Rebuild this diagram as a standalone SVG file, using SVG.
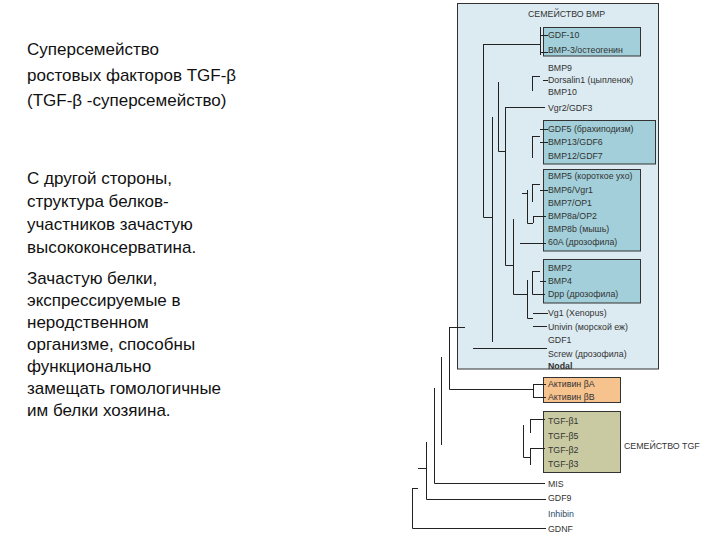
<svg xmlns="http://www.w3.org/2000/svg" width="720" height="540" viewBox="0 0 720 540">
<style>
.t{font-family:"Liberation Sans",Arial,sans-serif;font-size:17px;fill:#111}
.l{font-family:"Liberation Sans",Arial,sans-serif;font-size:8.8px;fill:#333}
.ln{fill:none;stroke:#222;stroke-width:1}
.bx{stroke:#333;stroke-width:1}
</style>
<rect width="720" height="540" fill="#fff"/>
<g id="text-left">
<text class="t" x="27" y="55">Суперсемейство</text>
<text class="t" x="27" y="81">ростовых факторов TGF-β</text>
<text class="t" x="27" y="106">(TGF-β -суперсемейство)</text>
<text class="t" x="27" y="184">С другой стороны,</text>
<text class="t" x="27" y="207">структура белков-</text>
<text class="t" x="27" y="230">участников зачастую</text>
<text class="t" x="27" y="253">высококонсерватина.</text>
<text class="t" x="27" y="284">Зачастую белки,</text>
<text class="t" x="27" y="306">экспрессируемые в</text>
<text class="t" x="27" y="328">неродственном</text>
<text class="t" x="27" y="350">организме, способны</text>
<text class="t" x="27" y="372">функционально</text>
<text class="t" x="27" y="394">замещать гомологичные</text>
<text class="t" x="27" y="416">им белки хозяина.</text>
</g>
<g id="bmp-family">
<rect class="bx" x="457.5" y="3.5" width="201" height="365.5" fill="#dceaf1"/>
<text class="l" x="528" y="17">СЕМЕЙСТВО BMP</text>
</g>
<g id="box-gdf10"><rect class="bx" x="543.5" y="27.5" width="97" height="28.5" fill="#a2cfd9"/></g>
<g id="box-gdf5"><rect class="bx" x="543.5" y="120.5" width="112" height="43.5" fill="#a2cfd9"/></g>
<g id="box-bmp5"><rect class="bx" x="543.5" y="169.5" width="97" height="81.5" fill="#a2cfd9"/></g>
<g id="box-bmp2"><rect class="bx" x="543.5" y="259.5" width="97" height="43.5" fill="#a2cfd9"/></g>
<g id="box-activin"><rect class="bx" x="543.5" y="377.5" width="77" height="25" fill="#f6c28e"/></g>
<g id="box-tgf"><rect class="bx" x="543.5" y="411.5" width="77" height="61" fill="#c9caa2"/></g>
<g id="labels">
<text class="l" x="548" y="38">GDF-10</text>
<text class="l" x="548" y="53">BMP-3/остеогенин</text>
<text class="l" x="548" y="71">BMP9</text>
<text class="l" x="548" y="83">Dorsalin1 (цыпленок)</text>
<text class="l" x="548" y="95">BMP10</text>
<text class="l" x="548" y="111">Vgr2/GDF3</text>
<text class="l" x="548" y="132">GDF5 (брахиподизм)</text>
<text class="l" x="548" y="145">BMP13/GDF6</text>
<text class="l" x="548" y="159">BMP12/GDF7</text>
<text class="l" x="548" y="179">BMP5 (короткое ухо)</text>
<text class="l" x="548" y="193">BMP6/Vgr1</text>
<text class="l" x="548" y="206">BMP7/OP1</text>
<text class="l" x="548" y="219">BMP8a/OP2</text>
<text class="l" x="548" y="232">BMP8b (мышь)</text>
<text class="l" x="548" y="245">60A (дрозофила)</text>
<text class="l" x="548" y="271">BMP2</text>
<text class="l" x="548" y="284">BMP4</text>
<text class="l" x="548" y="297">Dpp (дрозофила)</text>
<text class="l" x="548" y="316">Vg1 (Xenopus)</text>
<text class="l" x="548" y="330">Univin (морской еж)</text>
<text class="l" x="548" y="343">GDF1</text>
<text class="l" x="548" y="357">Screw (дрозофила)</text>
<text class="l" x="548" y="369" style="font-weight:bold">Nodal</text>
<text class="l" x="548" y="387">Активин βA</text>
<text class="l" x="548" y="400">Активин βB</text>
<text class="l" x="548" y="424">TGF-β1</text>
<text class="l" x="548" y="439">TGF-β5</text>
<text class="l" x="548" y="453">TGF-β2</text>
<text class="l" x="548" y="467">TGF-β3</text>
<text class="l" x="624" y="449">СЕМЕЙСТВО TGF</text>
<text class="l" x="548" y="487">MIS</text>
<text class="l" x="548" y="501">GDF9</text>
<text class="l" x="548" y="517" style="fill:#2a4a6a">Inhibin</text>
<text class="l" x="548" y="532">GDNF</text>
</g>
<g id="connectors" class="ln">
<path d="M540.5 27V55M540 35.5H548M540 52.5H548M483.5 44.5H540M483.5 44V217.5H492"/>
<path d="M532.5 76V91M532 76.5H540M543 80.5H548"/>
<path d="M498.5 82V151.5H505"/>
<path d="M505.5 107.5H545M505.5 107V265.5H513"/>
<path d="M492.5 117V342"/>
<path d="M532.5 136V158M532 136.5H540M540 129.5H548M540 142.5H548"/>
<path d="M532.5 184V202M532 184.5H540M540 190.5H548M527.5 190V223.5H533M533.5 216.5H546M533.5 216V223M522 193.5H527"/>
<path d="M520 243.5H546"/>
<path d="M513.5 219V294.5H527"/>
<path d="M532.5 271V294.5H545M532 271.5H540M540 281.5H546M527.5 280V318.5H533M533 313.5H548"/>
<path d="M533 326.5H547"/>
<path d="M473 348.5H547"/>
<path d="M449.5 327.5H465M449.5 327V389.5H533M533 384.5H546M533 397.5H546M533.5 384V398"/>
<path d="M441.5 357V445"/>
<path d="M434.5 388V483.5H545"/>
<path d="M530.5 419V433M530 419.5H545M530.5 448V465M530 448.5H545M523.5 425V457.5H530"/>
<path d="M426.5 442V499.5H546M418 468.5H426"/>
<path d="M412.5 488V528.5H546M412 488.5H418"/>
</g>
</svg>
